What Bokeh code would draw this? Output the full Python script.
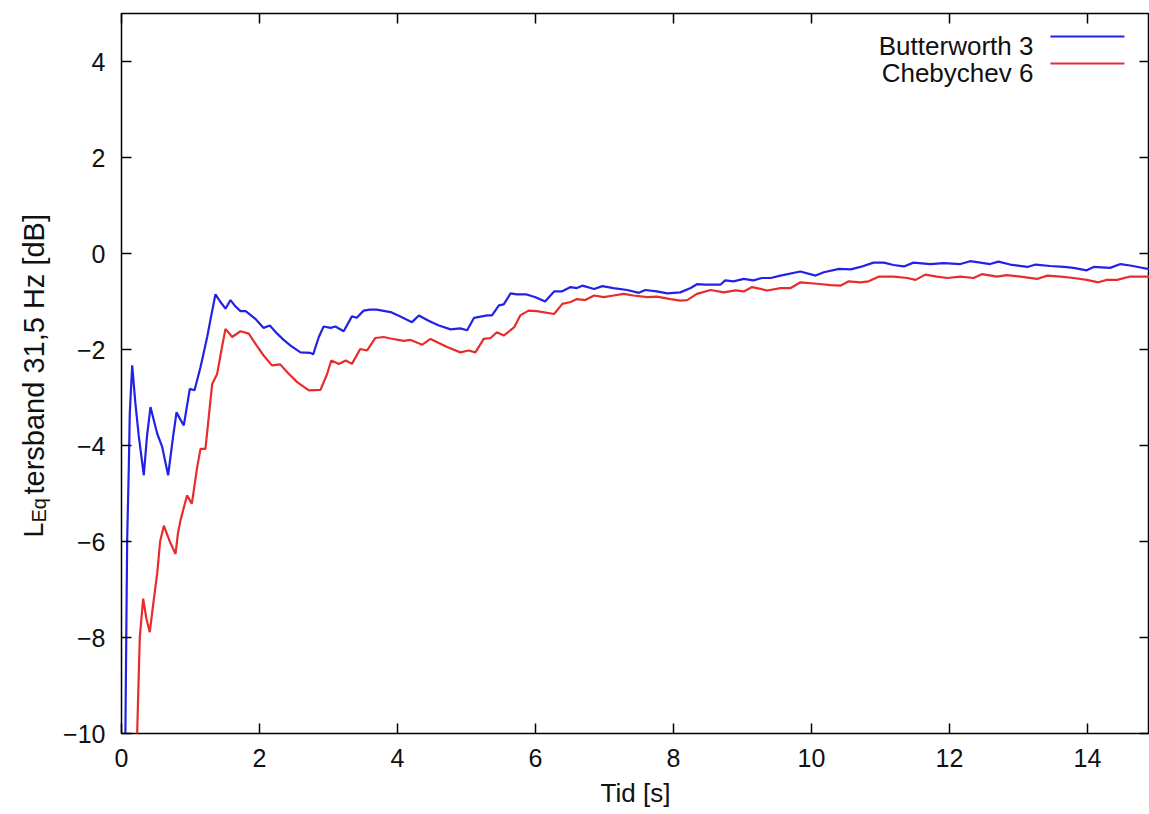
import math
from bokeh.plotting import figure
from bokeh.layouts import row
from bokeh.models import LinearAxis, FixedTicker, Label, ColumnDataSource
from bokeh.embed import file_html
from bokeh.resources import INLINE

# ---- data ----
bw_t = [0.05, 0.082, 0.106, 0.12, 0.155, 0.20, 0.25, 0.323, 0.37, 0.42, 0.517, 0.59, 0.676, 0.74,
        0.797, 0.85, 0.903, 0.99, 1.058, 1.145, 1.242, 1.30, 1.362, 1.43, 1.507, 1.58, 1.65, 1.725,
        1.8, 1.94, 2.06, 2.15, 2.256, 2.35, 2.45, 2.594, 2.739, 2.778, 2.86, 2.93, 3.03, 3.10, 3.22,
        3.34, 3.41, 3.51, 3.60, 3.70, 3.90, 4.05, 4.21, 4.31, 4.45, 4.60, 4.77, 4.91, 5.01, 5.11,
        5.30, 5.37, 5.47, 5.54, 5.64, 5.73, 5.86, 6.0, 6.14, 6.27, 6.38, 6.51, 6.60, 6.68, 6.85,
        6.97, 7.13, 7.33, 7.50, 7.59, 7.76, 7.91, 8.10, 8.25, 8.34, 8.46, 8.68, 8.75, 8.87, 9.02,
        9.16, 9.28, 9.41, 9.55, 9.84, 10.06, 10.18, 10.40, 10.57, 10.71, 10.90, 11.05, 11.19, 11.34,
        11.48, 11.72, 11.92, 12.16, 12.30, 12.45, 12.59, 12.71, 12.88, 13.13, 13.25, 13.46, 13.66,
        13.80, 13.99, 14.09, 14.33, 14.48, 14.62, 14.90]
bw_db = [-11.0, -5.98, -4.45, -3.33, -2.33, -3.1, -3.8, -4.62, -3.8, -3.2, -3.75, -4.03, -4.62, -3.9,
         -3.31, -3.45, -3.58, -2.82, -2.85, -2.37, -1.74, -1.3, -0.85, -1.0, -1.15, -0.97, -1.1, -1.2,
         -1.2, -1.36, -1.55, -1.5, -1.67, -1.80, -1.92, -2.06, -2.07, -2.1, -1.74, -1.52, -1.55, -1.52, -1.62,
         -1.31, -1.34, -1.19, -1.17, -1.17, -1.22, -1.32, -1.43, -1.29, -1.40, -1.5, -1.58, -1.56, -1.6, -1.34,
         -1.29, -1.29, -1.08, -1.06, -0.83, -0.85, -0.85, -0.91, -1.0, -0.79, -0.79, -0.70, -0.72, -0.67, -0.74,
         -0.68, -0.72, -0.76, -0.82, -0.76, -0.79, -0.83, -0.81, -0.72, -0.64, -0.65, -0.65, -0.56, -0.58, -0.53,
         -0.56, -0.51, -0.51, -0.46, -0.375, -0.46, -0.39, -0.32, -0.33, -0.28, -0.19, -0.19, -0.24, -0.27,
         -0.19, -0.22, -0.20, -0.22, -0.16, -0.19, -0.22, -0.17, -0.23, -0.28, -0.23, -0.26, -0.28,
         -0.30, -0.35, -0.28, -0.30, -0.22, -0.25, -0.33]

ch_t = [0.20, 0.227, 0.265, 0.314, 0.36, 0.41, 0.46, 0.517, 0.56, 0.614, 0.70, 0.783, 0.817, 0.855,
        0.95, 1.02, 1.097, 1.145, 1.217, 1.314, 1.386, 1.45, 1.507, 1.604, 1.725, 1.845, 1.95, 2.06,
        2.18, 2.30, 2.42, 2.546, 2.715, 2.884, 2.98, 3.04, 3.15, 3.25, 3.34, 3.46, 3.56, 3.68, 3.80,
        3.90, 4.09, 4.19, 4.36, 4.48, 4.72, 4.91, 5.03, 5.13, 5.25, 5.35, 5.44, 5.54, 5.69, 5.78,
        5.90, 6.02, 6.27, 6.39, 6.51, 6.60, 6.72, 6.85, 6.99, 7.13, 7.28, 7.42, 7.62, 7.76, 7.96,
        8.10, 8.20, 8.34, 8.54, 8.73, 8.90, 9.02, 9.14, 9.36, 9.55, 9.70, 9.84, 10.08, 10.28, 10.42,
        10.54, 10.71, 10.83, 10.98, 11.19, 11.39, 11.51, 11.65, 11.82, 11.97, 12.16, 12.35, 12.47,
        12.69, 12.83, 13.03, 13.27, 13.42, 13.61, 13.80, 13.99, 14.16, 14.28, 14.43, 14.62, 14.90]
ch_db = [-11.0, -10.0, -8.0, -7.19, -7.6, -7.89, -7.3, -6.67, -6.0, -5.67, -6.0, -6.26, -5.84, -5.56,
         -5.04, -5.21, -4.45, -4.07, -4.07, -2.72, -2.51, -2.0, -1.57, -1.74, -1.62, -1.67, -1.9, -2.125,
         -2.33, -2.31, -2.5, -2.68, -2.85, -2.84, -2.51, -2.23, -2.30, -2.23, -2.30, -1.99, -2.02, -1.76, -1.74,
         -1.77, -1.82, -1.80, -1.90, -1.78, -1.95, -2.06, -2.02, -2.06, -1.78, -1.76, -1.64, -1.71, -1.54, -1.29,
         -1.19, -1.20, -1.26, -1.05, -1.01, -0.95, -0.97, -0.875, -0.91, -0.875, -0.84, -0.875, -0.91, -0.90, -0.95,
         -0.98, -0.97, -0.84, -0.76, -0.81, -0.77, -0.79, -0.70, -0.77, -0.72, -0.72, -0.60, -0.63, -0.66, -0.67,
         -0.58, -0.60, -0.58, -0.48, -0.48, -0.51, -0.55, -0.44, -0.48, -0.51, -0.48, -0.51, -0.43,
         -0.48, -0.45, -0.48, -0.53, -0.46, -0.48, -0.51, -0.55, -0.60, -0.55, -0.55, -0.48, -0.48]

series_names = ["Butterworth 3", "Chebychev 6"]
x_ticks = [0, 2, 4, 6, 8, 10, 12, 14]
y_ticks = [-10, -8, -6, -4, -2, 0, 2, 4]
x_label = "Tid [s]"
y_label_main = "L"
y_label_sub = "Eq"
y_label_rest = "tersband 31,5 Hz [dB]"

BLUE = "#2222e6"
RED = "#e82c2c"
FONT = "Liberation Sans"
TXT = "#111111"

W, H = 1149, 814
LBL_W = 56          # width of the side strip holding the y-axis title
FRAME_L, FRAME_T, FRAME_B = 121, 13, 733

# ---- main plot ----
p = figure(width=W - LBL_W, height=H, x_range=(0, 14.9), y_range=(-10, 5),
           output_backend="svg", toolbar_location=None,
           min_border_left=FRAME_L - LBL_W, min_border_top=FRAME_T,
           min_border_right=0, min_border_bottom=H - FRAME_B)
p.xgrid.visible = False
p.ygrid.visible = False
p.outline_line_color = "black"
p.outline_line_width = 1.5
p.background_fill_color = "white"
p.border_fill_color = "white"

def y_fmt(v):
    return ("\u2212" + str(-v)) if v < 0 else str(v)

def style_axis(ax, ticks, show_labels):
    ax.ticker = FixedTicker(ticks=ticks)
    ax.axis_line_color = None
    ax.major_tick_in = 10
    ax.major_tick_out = 0
    ax.minor_tick_line_color = None
    ax.major_tick_line_color = "black"
    ax.major_tick_line_width = 1.5
    ax.major_label_text_font = FONT
    if show_labels:
        ax.major_label_text_font_size = "25px"
        ax.major_label_text_color = TXT
    else:
        ax.major_label_text_font_size = "1px"
        ax.major_label_text_color = None
        ax.major_label_standoff = 0

xa = p.xaxis[0]
style_axis(xa, x_ticks, True)
xa.major_label_standoff = 15
xa.axis_label = x_label
xa.axis_label_text_font = FONT
xa.axis_label_text_font_size = "26px"
xa.axis_label_text_font_style = "normal"
xa.axis_label_text_color = TXT
xa.axis_label_standoff = 8

ya = p.yaxis[0]
style_axis(ya, y_ticks, True)
ya.major_label_standoff = 16
ya.major_label_overrides = {t: y_fmt(t) for t in y_ticks}

top = LinearAxis()
style_axis(top, x_ticks, False)
p.add_layout(top, "above")
right = LinearAxis()
style_axis(right, y_ticks, False)
p.add_layout(right, "right")

src_b = ColumnDataSource(dict(t=bw_t, v=bw_db))
src_c = ColumnDataSource(dict(t=ch_t, v=ch_db))
p.line("t", "v", source=src_b, line_color=BLUE, line_width=2.2)
p.line("t", "v", source=src_c, line_color=RED, line_width=2.2)

# image pixel -> data coordinate inside the main frame
def dx(px):
    return (px - FRAME_L) / 69.0
def dy(py):
    return (FRAME_B - py) / 48.0 - 10

# legend (gnuplot style: text on the left, line sample on the right)
for i, (name, col) in enumerate(zip(series_names, [BLUE, RED])):
    base = 45 + i * 27
    p.add_layout(Label(x=dx(1033), y=dy(base), text=name, text_align="right",
                       text_baseline="alphabetic", text_font=FONT, text_font_size="26px",
                       text_color=TXT))
    p.segment(x0=[dx(1050)], y0=[dy(base - 9)], x1=[dx(1124)], y1=[dy(base - 9)],
              line_color=col, line_width=2.2)

# ---- side strip with the rotated y-axis title; shares the y range of the main plot ----
s = figure(width=LBL_W, height=H, x_range=(0, LBL_W), y_range=p.y_range,
           x_axis_location=None, y_axis_location=None,
           output_backend="svg", toolbar_location=None,
           min_border_left=0, min_border_right=0,
           min_border_top=FRAME_T, min_border_bottom=H - FRAME_B,
           outline_line_color=None)
s.xgrid.visible = False
s.ygrid.visible = False
s.border_fill_color = "white"

s.add_layout(Label(x=33, y=dy(537), text=y_label_main, angle=math.pi / 2,
                   text_align="left", text_baseline="alphabetic", text_font=FONT,
                   text_font_size="27px", text_color=TXT))
s.add_layout(Label(x=38, y=dy(522), text=y_label_sub, angle=math.pi / 2,
                   text_align="left", text_baseline="alphabetic", text_font=FONT,
                   text_font_size="20px", text_color=TXT))
s.add_layout(Label(x=33, y=dy(494), text=y_label_rest, angle=math.pi / 2,
                   text_align="left", text_baseline="alphabetic", text_font=FONT,
                   text_font_size="29px", text_color=TXT))

layout = row(s, p, spacing=0)
open("out.html", "w").write(file_html(layout, INLINE))
